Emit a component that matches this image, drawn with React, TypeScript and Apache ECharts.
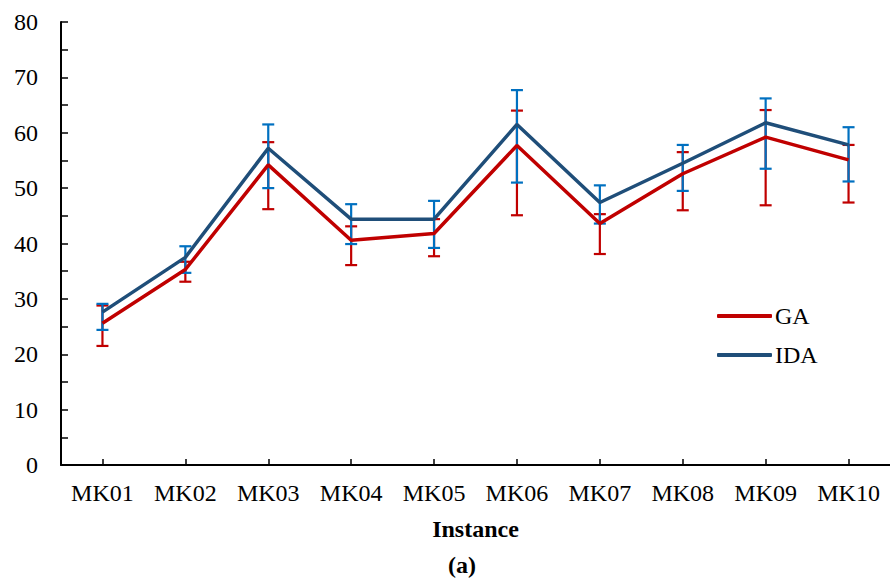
import React, { useEffect, useRef } from "react";
import * as echarts from "echarts";

const categories = ["MK01", "MK02", "MK03", "MK04", "MK05", "MK06", "MK07", "MK08", "MK09", "MK10"];
const gaMean = [25.6, 35.3, 54.2, 40.6, 41.8, 57.7, 43.6, 52.6, 59.2, 55.1];
const gaLow = [21.5, 33.1, 46.2, 36.1, 37.7, 45.1, 38.1, 46.0, 46.9, 47.4];
const gaHigh = [28.8, 36.7, 58.3, 43.1, 44.4, 64.0, 45.3, 56.5, 64.1, 57.8];
const idaMean = [27.6, 37.5, 57.2, 44.4, 44.4, 61.5, 47.4, 54.5, 61.8, 57.8];
const idaLow = [24.4, 34.7, 50.0, 39.9, 39.2, 51.0, 43.6, 49.5, 53.5, 51.2];
const idaHigh = [29.1, 39.5, 61.5, 47.1, 47.7, 67.7, 50.5, 57.8, 66.2, 61.0];
const yTicks = { min: 0, max: 80, interval: 10 };

const FONT = "Liberation Serif";
const RED = "#C00000";
const NAVY = "#1F4E79";
const BLUE_ERR = "#0070C0";

function errorSeries(name: string, low: number[], high: number[], color: string, z: number) {
  return {
    type: "custom",
    name: name,
    z: z,
    silent: true,
    data: categories.map((_, i) => [i, low[i], high[i]]),
    encode: { x: 0, y: [1, 2] },
    renderItem: (params: any, api: any) => {
      const x = api.value(0);
      const lo = api.coord([x, api.value(1)]);
      const hi = api.coord([x, api.value(2)]);
      const hw = 6;
      const style = { stroke: color, lineWidth: 2.2 };
      return {
        type: "group",
        children: [
          { type: "line", shape: { x1: lo[0], y1: lo[1], x2: hi[0], y2: hi[1] }, style },
          { type: "line", shape: { x1: hi[0] - hw, y1: hi[1], x2: hi[0] + hw, y2: hi[1] }, style },
          { type: "line", shape: { x1: lo[0] - hw, y1: lo[1], x2: lo[0] + hw, y2: lo[1] }, style },
        ],
      };
    },
  };
}

export default function App() {
  const ref = useRef<HTMLDivElement>(null);
  useEffect(() => {
    if (!ref.current) return;
    const chart = echarts.init(ref.current, null, { renderer: "svg" });
    chart.setOption({
      animation: false,
      backgroundColor: "#ffffff",
      textStyle: { fontFamily: FONT },
      grid: { left: 61, right: -9, top: 22, bottom: 114, containLabel: false },
      legend: {
        data: ["GA", "IDA"],
        orient: "vertical",
        left: 717,
        top: 304,
        padding: 0,
        itemWidth: 55,
        itemHeight: 4,
        itemGap: 15,
        icon: "roundRect",
        textStyle: { fontFamily: FONT, fontSize: 24, color: "#000", padding: [0, 0, 0, -2] },
      },
      xAxis: {
        type: "category",
        data: categories,
        boundaryGap: true,
        axisLine: { show: true, lineStyle: { color: "#000", width: 2 } },
        axisTick: { show: true, alignWithLabel: true, inside: true, length: 6, lineStyle: { color: "#000", width: 1.5 } },
        axisLabel: { fontFamily: FONT, fontSize: 24, color: "#000", margin: 16 },
        name: "Instance",
        nameLocation: "middle",
        nameGap: 52,
        nameTextStyle: { fontFamily: FONT, fontSize: 24, fontWeight: "bold", color: "#000" },
        splitLine: { show: false },
      },
      yAxis: {
        type: "value",
        min: yTicks.min,
        max: yTicks.max,
        interval: yTicks.interval,
        axisLine: { show: true, lineStyle: { color: "#000", width: 2 } },
        axisTick: { show: true, inside: true, length: 7, lineStyle: { color: "#000", width: 1.5 } },
        minorTick: { show: true, splitNumber: 2, length: 7, lineStyle: { color: "#000", width: 1.5 } },
        axisLabel: { fontFamily: FONT, fontSize: 24, color: "#000", margin: 23 },
        splitLine: { show: false },
        minorSplitLine: { show: false },
      },
      graphic: [
        {
          type: "text",
          left: 448,
          top: 553,
          style: { text: "(a)", font: "bold 24px " + FONT, fill: "#000" },
        },
      ],
      series: [
        errorSeries("GA-err", gaLow, gaHigh, RED, 2),
        errorSeries("IDA-err", idaLow, idaHigh, BLUE_ERR, 3),
        {
          type: "line",
          name: "GA",
          data: gaMean,
          z: 4,
          symbol: "none",
          lineStyle: { color: RED, width: 3.5 },
          itemStyle: { color: RED },
        },
        {
          type: "line",
          name: "IDA",
          data: idaMean,
          z: 5,
          symbol: "none",
          lineStyle: { color: NAVY, width: 3.5 },
          itemStyle: { color: NAVY },
        },
      ],
    });
    return () => chart.dispose();
  }, []);
  return (
    <div
      ref={ref}
      style={{ position: "absolute", left: 0, top: 0, width: 890, height: 579, background: "#fff" }}
    />
  );
}
